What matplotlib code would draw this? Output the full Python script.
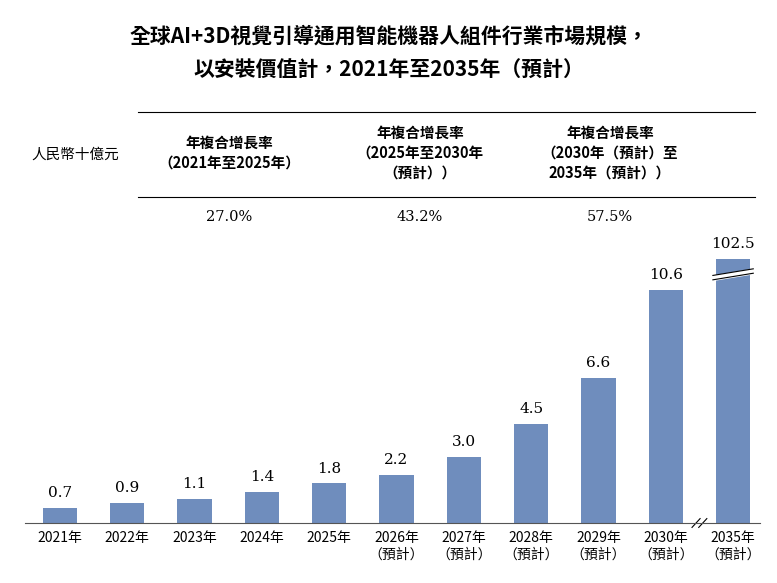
import matplotlib.pyplot as plt
from matplotlib.lines import Line2D

plt.rcParams['font.family'] = ['Noto Sans CJK TC', 'DejaVu Sans']

years = ["2021年", "2022年", "2023年", "2024年", "2025年", "2026年\n（預計）", "2027年\n（預計）",
         "2028年\n（預計）", "2029年\n（預計）", "2030年\n（預計）", "2035年\n（預計）"]
values = [0.7, 0.9, 1.1, 1.4, 1.8, 2.2, 3.0, 4.5, 6.6, 10.6, 102.5]
shown = [0.7, 0.9, 1.1, 1.4, 1.8, 2.2, 3.0, 4.5, 6.6, 10.6, 12.0]  # 2035 bar drawn broken
cagr_heads = ["年複合增長率\n（2021年至2025年）", "年複合增長率\n（2025年至2030年\n預計）)",
              "年複合增長率\n（2030年（預計）至\n2035年（預計））"]
cagr_heads[1] = "年複合增長率\n（2025年至2030年\n（預計））"
cagr_vals = ["27.0%", "43.2%", "57.5%"]

W, H = 777, 583
fig = plt.figure(figsize=(7.77, 5.83), dpi=100)
color = "#6F8DBD"

fig.text(0.5, 1 - 36 / H, "全球AI+3D視覺引導通用智能機器人組件行業市場規模，", ha="center", va="center",
         fontsize=15, fontweight="bold")
fig.text(0.5, 1 - 70 / H, "以安裝價值計，2021年至2035年（預計）", ha="center", va="center",
         fontsize=15, fontweight="bold")

# table
for yp in (112, 197):
    fig.add_artist(Line2D([138 / W, 755 / W], [1 - yp / H] * 2, color="black", lw=0.8))
fig.text(75 / W, 1 - 155 / H, "人民幣十億元", ha="center", va="center", fontsize=10.5, style="italic")
for cx, head, v in zip([229, 420, 610], cagr_heads, cagr_vals):
    fig.text(cx / W, 1 - 153 / H, head, ha="center", va="center", fontsize=10.5,
             fontweight="bold", linespacing=1.3)
    fig.text(cx / W, 1 - 217 / H, v, ha="center", va="center", fontsize=10.5, family="DejaVu Serif")

ax = fig.add_axes([25 / W, 1 - 523 / H, 735 / W, 283 / H])
x = list(range(len(values)))
ax.bar(x, shown, width=0.51, color=color)
ax.set_xlim(-0.52, 10.4)
ax.set_ylim(0, 12.86)
for xi, s, v in zip(x, shown, values):
    ax.text(xi, s + 0.35, f"{v:.1f}", ha="center", va="bottom", fontsize=11, family="DejaVu Serif")
ax.set_xticks(x)
ax.set_xticklabels(years, fontsize=10, linespacing=1.2)
ax.tick_params(axis="x", length=0, pad=6)
ax.set_yticks([])
for sp in ("left", "right", "top"):
    ax.spines[sp].set_visible(False)
ax.spines["bottom"].set_color("#555555")

# break on 2035 bar
ax.fill_between([9.7, 10.3], [11.05, 11.35], [11.25, 11.55], color="white", zorder=3)
ax.plot([9.7, 10.3], [11.05, 11.35], color="black", lw=0.8, zorder=4)
ax.plot([9.7, 10.3], [11.25, 11.55], color="black", lw=0.8, zorder=4)
# break on axis
for dx in (-0.05, 0.05):
    ax.plot([9.5 + dx - 0.06, 9.5 + dx + 0.06], [-0.2, 0.2], color="black", lw=0.8, clip_on=False)

fig.savefig("out.png", dpi=100)
